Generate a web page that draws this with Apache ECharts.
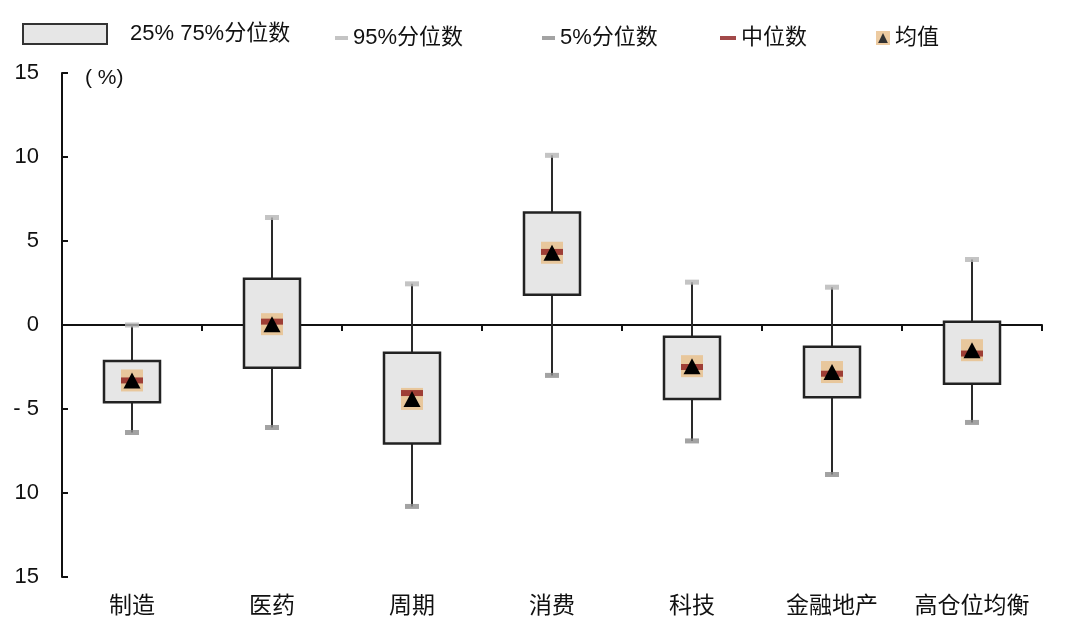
<!DOCTYPE html>
<html>
<head>
<meta charset="utf-8">
<script src="https://cdn.jsdelivr.net/npm/echarts@6/dist/echarts.min.js"></script>
<style>
  html, body { margin: 0; padding: 0; background: #fff; }
  #main { width: 1080px; height: 641px; }
</style>
</head>
<body>
<div id="main"></div>
<script>
// 分类与各分位数据 (%)
const categories = ['制造', '医药', '周期', '消费', '科技', '金融地产', '高仓位均衡'];
const p95 = [0.0, 6.4, 2.45, 10.1, 2.55, 2.25, 3.9];
const q3 = [-2.15, 2.75, -1.65, 6.7, -0.7, -1.3, 0.2];
const q1 = [-4.6, -2.55, -7.05, 1.8, -4.4, -4.3, -3.5];
const p5 = [-6.4, -6.1, -10.8, -3.0, -6.9, -8.9, -5.8];
const median = [-3.3, 0.2, -4.05, 4.35, -2.5, -2.9, -1.7];
const mean = [-3.3, 0.05, -4.4, 4.3, -2.45, -2.8, -1.5];

// y轴刻度 (值 -> 原图上的文字)
const yTickValues = [15, 10, 5, 0, -5, -10, -15];
const yTickLabels = ['15', '10', '5', '0', '- 5', '10', '15'];

const chart = echarts.init(document.getElementById('main'));

// 均值图例图标: 橙色方块 + 黑三角
const meanSvg = '<svg xmlns="http://www.w3.org/2000/svg" width="20" height="20" viewBox="0 0 20 20">' +
    '<rect x="0" y="0" width="20" height="20" fill="#e9bf8a"/>' +
    '<polygon points="10,3 17,17 3,17" fill="#000"/></svg>';
const meanIcon = 'image://data:image/svg+xml;utf8,' + encodeURIComponent(meanSvg);

const boxData = categories.map((c, i) => [i, p5[i], q1[i], q3[i], p95[i]]);

function renderBox(params, api) {
    const x = api.value(0);
    const lo = api.coord([x, api.value(1)]);
    const b1 = api.coord([x, api.value(2)]);
    const b2 = api.coord([x, api.value(3)]);
    const hi = api.coord([x, api.value(4)]);
    const w = api.size([1, 0])[0] * 0.4;
    return {
        type: 'group',
        children: [
            { type: 'line', shape: { x1: lo[0], y1: lo[1], x2: hi[0], y2: hi[1] },
              style: { stroke: '#2a2a2a', lineWidth: 2 } },
            { type: 'rect', shape: { x: b2[0] - w / 2, y: b2[1], width: w, height: b1[1] - b2[1] },
              style: { fill: '#e6e6e6', stroke: '#222', lineWidth: 2.5 } }
        ]
    };
}

const textBase = { fontFamily: 'Liberation Sans, Arial, "Noto Sans CJK SC", sans-serif', color: '#111' };

const option = {
    animation: false,
    backgroundColor: '#fff',
    grid: { left: 62, right: 38, top: 73, bottom: 64 },
    legend: [
        { left: 17, top: 18, itemWidth: 84, itemHeight: 20, selectedMode: false,
          data: [{ name: '25% 75%分位数', icon: 'rect',
                   itemStyle: { color: '#e6e6e6', borderColor: '#333', borderWidth: 2 } }],
          textStyle: Object.assign({ fontSize: 22, padding: [8, 0, 0, 18] }, textBase) },
        { left: 330, top: 22, itemWidth: 13, itemHeight: 4, selectedMode: false,
          data: [{ name: '95%分位数', icon: 'rect' }],
          textStyle: Object.assign({ fontSize: 22 }, textBase) },
        { left: 537, top: 22, itemWidth: 13, itemHeight: 4, selectedMode: false,
          data: [{ name: '5%分位数', icon: 'rect' }],
          textStyle: Object.assign({ fontSize: 22 }, textBase) },
        { left: 715, top: 22, itemWidth: 16, itemHeight: 4, selectedMode: false,
          data: [{ name: '中位数', icon: 'rect' }],
          textStyle: Object.assign({ fontSize: 22 }, textBase) },
        { left: 871, top: 22, itemWidth: 14, itemHeight: 14, selectedMode: false,
          data: [{ name: '均值', icon: meanIcon }],
          textStyle: Object.assign({ fontSize: 22 }, textBase) }
    ],
    graphic: [
        { type: 'text', left: 85, top: 68,
          style: { text: '( %)', fontSize: 21, fill: '#111', fontFamily: textBase.fontFamily } }
    ],
    xAxis: [
        { type: 'category', data: categories,
          axisLine: { onZero: true, lineStyle: { color: '#111', width: 2 } },
          axisTick: { show: true, length: 6, lineStyle: { color: '#111', width: 2 } },
          axisLabel: { show: false } },
        { type: 'category', data: categories, position: 'bottom',
          axisLine: { show: false, onZero: false }, axisTick: { show: false },
          axisLabel: Object.assign({ fontSize: 23, margin: 18, interval: 0 }, textBase) }
    ],
    yAxis: {
        type: 'value', min: -15, max: 15, interval: 5,
        axisLine: { show: true, lineStyle: { color: '#111', width: 2 } },
        axisTick: { show: true, inside: true, length: 6, lineStyle: { color: '#111', width: 2 } },
        splitLine: { show: false },
        axisLabel: Object.assign({
            fontSize: 22, margin: 23,
            formatter: v => yTickLabels[yTickValues.indexOf(v)]
        }, textBase)
    },
    series: [
        { name: '25% 75%分位数', type: 'custom', renderItem: renderBox, z: 2,
          itemStyle: { color: '#e6e6e6' },
          encode: { x: 0, y: [1, 2, 3, 4] }, data: boxData },
        { name: '95%分位数', type: 'scatter', symbol: 'rect', symbolSize: [14, 5], z: 3,
          itemStyle: { color: '#b5b5b5' }, data: p95 },
        { name: '5%分位数', type: 'scatter', symbol: 'rect', symbolSize: [14, 5], z: 3,
          itemStyle: { color: '#8c8c8c' }, data: p5 },
        { name: '均值', type: 'scatter', symbol: 'rect', symbolSize: 22, z: 4,
          itemStyle: { color: '#e9bf8a' }, data: mean },
        { name: '中位数', type: 'scatter', symbol: 'rect', symbolSize: [22, 6], z: 5,
          itemStyle: { color: '#8b1c1c' }, data: median },
        { name: '均值▲', type: 'scatter', symbol: 'triangle', symbolSize: [17, 16], z: 6,
          itemStyle: { color: '#000', opacity: 1 }, data: mean }
    ]
};

chart.setOption(option);
</script>
</body>
</html>
